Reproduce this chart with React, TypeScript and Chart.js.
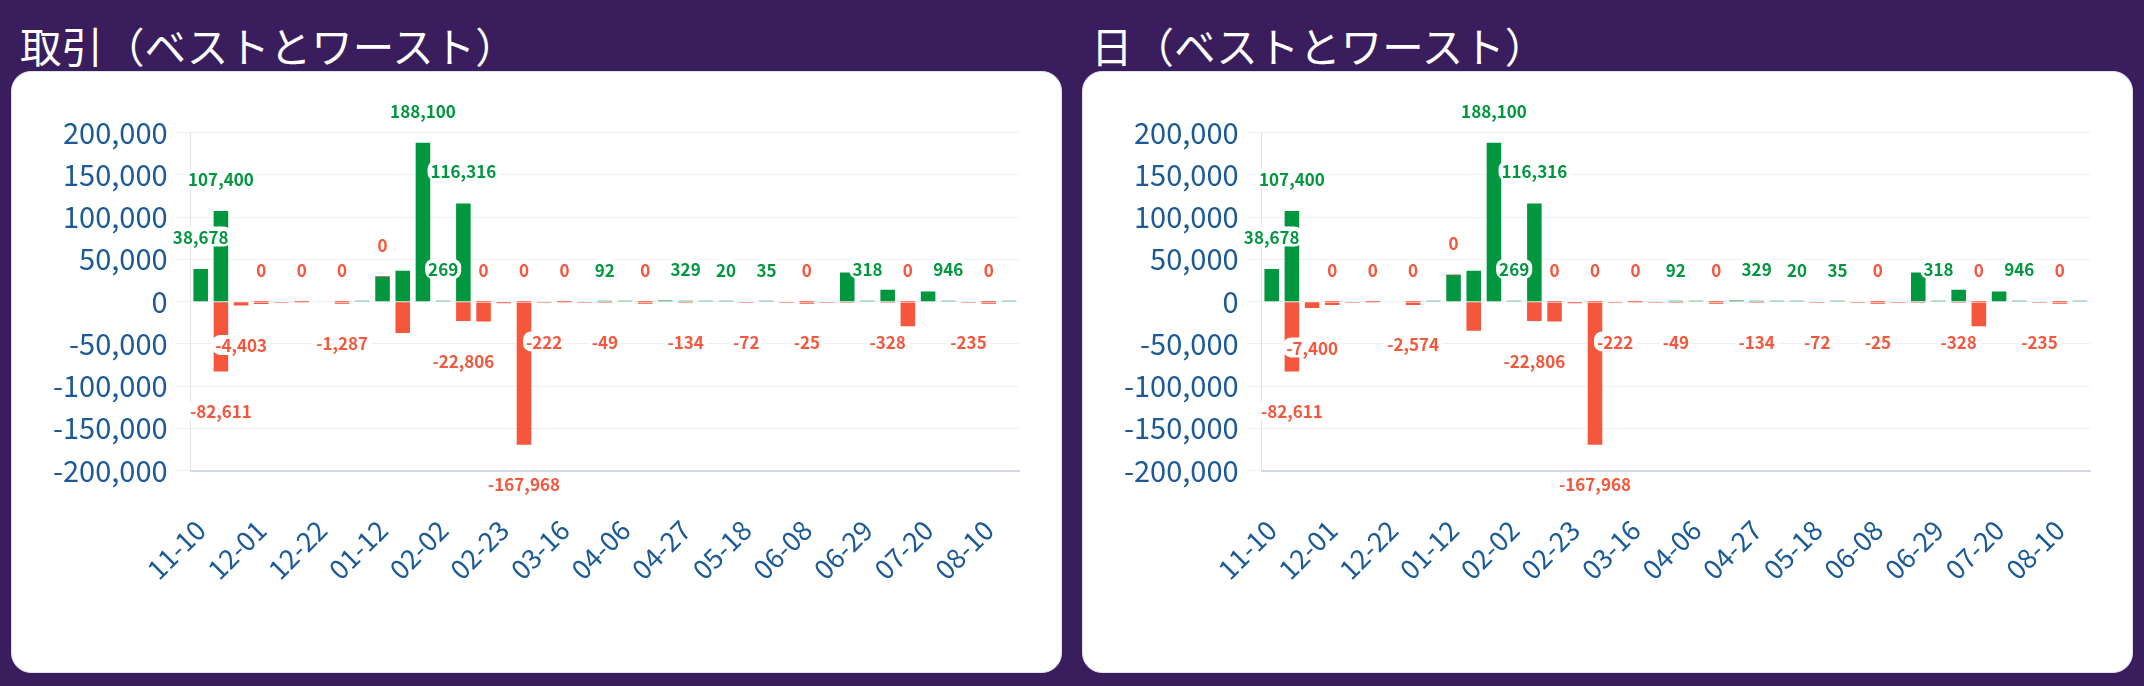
import { useEffect, useRef } from "react";
import { Chart, registerables } from "chart.js";

Chart.register(...registerables);

// weekly buckets (month-day of the week start)
const weeks = [
  "11-10", "11-17", "11-24", "12-01", "12-08", "12-15", "12-22", "12-29",
  "01-05", "01-12", "01-19", "01-26", "02-02", "02-09", "02-16", "02-23",
  "03-02", "03-09", "03-16", "03-23", "03-30", "04-06", "04-13", "04-20",
  "04-27", "05-04", "05-11", "05-18", "05-25", "06-01", "06-08", "06-15",
  "06-22", "06-29", "07-06", "07-13", "07-20", "07-27", "08-03", "08-10",
  "08-17",
];

// best / worst single trade of each week
const tradeBest = [
  38678, 107400, null, 0, null, 0, null, 0, 1150, 29600, 36700, 188100, 269,
  116316, 0, null, 0, null, 0, null, 92, 300, 0, 1400, 329, 200, 20, null, 35,
  null, 0, null, 34500, 318, 14200, 0, 12200, 946, null, 0, 110,
];
const tradeWorst = [
  null, -82611, -4403, -1500, -600, null, null, -1287, null, 0, -37100, null,
  null, -22806, -22300, -1800, -167968, -222, null, -90, -49, null, -120, null,
  -134, null, null, -72, null, -60, -25, -15, -180, null, -328, -28000, null,
  null, -235, -40, null,
];

// best / worst day of each week
const dayBest = [
  38678, 107400, null, 0, null, 0, null, 0, 1150, 31500, 36700, 188100, 269,
  116316, 0, null, 0, null, 0, null, 92, 300, 0, 1400, 329, 200, 20, null, 35,
  null, 0, null, 34500, 318, 14200, 0, 12200, 946, null, 0, 110,
];
const dayWorst = [
  null, -82611, -7400, -2700, -600, null, null, -2574, null, 0, -34400, null,
  null, -22806, -22300, -1800, -167968, -222, null, -90, -49, null, -120, null,
  -134, null, null, -72, null, -60, -25, -15, -180, null, -328, -28000, null,
  null, -235, -40, null,
];

// value labels that stay visible (the rest are hidden where they would overlap)
const bestLabelWeeks = [0, 1, 3, 5, 7, 11, 12, 13, 14, 16, 18, 20, 22, 24, 26, 28, 30, 33, 35, 37, 39];
const worstLabelWeeks = [1, 2, 7, 9, 13, 16, 17, 20, 24, 27, 30, 34, 38];

const PURPLE = "#3a1d5c";
const GREEN = "#00973f";
const RED = "#f5563c";
const TICK = "#1b5a97";
const FONT = '"Noto Sans CJK JP", "Noto Sans", sans-serif';

const valueLabels = {
  id: "valueLabels",
  afterDatasetsDraw(chart: Chart) {
    const { ctx } = chart;
    const y = chart.scales.y;
    const shown = [bestLabelWeeks, worstLabelWeeks];
    ctx.save();
    ctx.font = `bold 17px ${FONT}`;
    ctx.textAlign = "center";
    ctx.textBaseline = "middle";
    chart.data.datasets.forEach((ds, di) => {
      const meta = chart.getDatasetMeta(di);
      shown[di].forEach((i) => {
        const v = ds.data[i] as number | null;
        if (v == null) return;
        // same stacking rule as chart.js: zero sits on top of the stack
        let end = v;
        if (di === 1) {
          const b = chart.data.datasets[0].data[i] as number | null;
          if (b != null && (v === 0 || Math.sign(v) === Math.sign(b))) end += b;
        }
        const py = y.getPixelForValue(end);
        const cy = v < 0 ? py + 39.5 : py - 32.5;
        const cx = meta.data[i].x;
        const text = v.toLocaleString("en-US");
        const w = ctx.measureText(text).width + 6;
        const h = 20;
        ctx.fillStyle = "#ffffff";
        ctx.beginPath();
        ctx.roundRect(cx - w / 2, cy - h / 2, w, h, 8);
        ctx.fill();
        ctx.fillStyle = v > 0 ? GREEN : RED;
        ctx.fillText(text, cx, cy + 1);
      });
    });
    ctx.restore();
  },
};

interface PanelProps {
  left: number;
  title: string;
  best: (number | null)[];
  worst: (number | null)[];
}

function BestWorstPanel({ left, title, best, worst }: PanelProps) {
  const canvasRef = useRef<HTMLCanvasElement>(null);

  useEffect(() => {
    if (!canvasRef.current) return;
    const barColor = (c: any) => ((c.raw as number) > 0 ? GREEN : RED);
    const chart = new Chart(canvasRef.current, {
      type: "bar",
      data: {
        labels: weeks,
        datasets: [
          { label: "best", data: best, backgroundColor: barColor, minBarLength: 1, borderWidth: 0 },
          { label: "worst", data: worst, backgroundColor: barColor, minBarLength: 1, borderWidth: 0 },
        ],
      },
      options: {
        responsive: false,
        animation: false,
        events: [],
        layout: { padding: { top: 60.7, right: 42, bottom: 0, left: 0 } },
        plugins: { legend: { display: false }, tooltip: { enabled: false } },
        scales: {
          x: {
            stacked: true,
            grid: { display: false, drawTicks: false },
            border: { display: true, color: "#d4d9df", width: 2 },
            ticks: {
              autoSkip: false,
              minRotation: 45,
              maxRotation: 45,
              padding: 43,
              color: TICK,
              font: { family: FONT, size: 27 },
              callback: (_v, i) => (i % 3 === 0 ? weeks[i] : ""),
            },
            afterFit: (s: any) => {
              s.height = 201.3;
              s.paddingLeft = 0;
              s.paddingRight = 0;
            },
          },
          y: {
            stacked: true,
            min: -200000,
            max: 200000,
            grid: { color: "#edf1f5", tickLength: 15 },
            border: { color: "#e1e5ea", width: 1 },
            ticks: {
              stepSize: 50000,
              padding: 8,
              color: TICK,
              font: { family: FONT, size: 29 },
              callback: (v) => Number(v).toLocaleString("en-US"),
            },
            afterFit: (s) => {
              s.width = 178.6;
            },
          },
        },
      },
      plugins: [valueLabels],
    });
    return () => chart.destroy();
  }, [best, worst]);

  return (
    <>
      <div
        style={{
          position: "absolute",
          left: left + 9,
          top: 24,
          color: "#ffffff",
          fontFamily: FONT,
          fontSize: 41.5,
          lineHeight: "42px",
          whiteSpace: "nowrap",
        }}
      >
        {title}
      </div>
      <div
        style={{
          position: "absolute",
          left,
          top: 71,
          width: 1051,
          height: 602,
          background: "#ffffff",
          border: "1px solid #dde3ea",
          borderRadius: 20,
          boxSizing: "border-box",
          overflow: "hidden",
        }}
      >
        <canvas ref={canvasRef} width={1049} height={600} style={{ display: "block" }} />
      </div>
    </>
  );
}

export default function App() {
  useEffect(() => {
    document.body.style.margin = "0";
    document.body.style.background = PURPLE;
  }, []);

  return (
    <div style={{ position: "relative", width: 2144, height: 686, background: PURPLE, overflow: "hidden" }}>
      <BestWorstPanel left={11} title="取引（ベストとワースト）" best={tradeBest} worst={tradeWorst} />
      <BestWorstPanel left={1082} title="日（ベストとワースト）" best={dayBest} worst={dayWorst} />
    </div>
  );
}
